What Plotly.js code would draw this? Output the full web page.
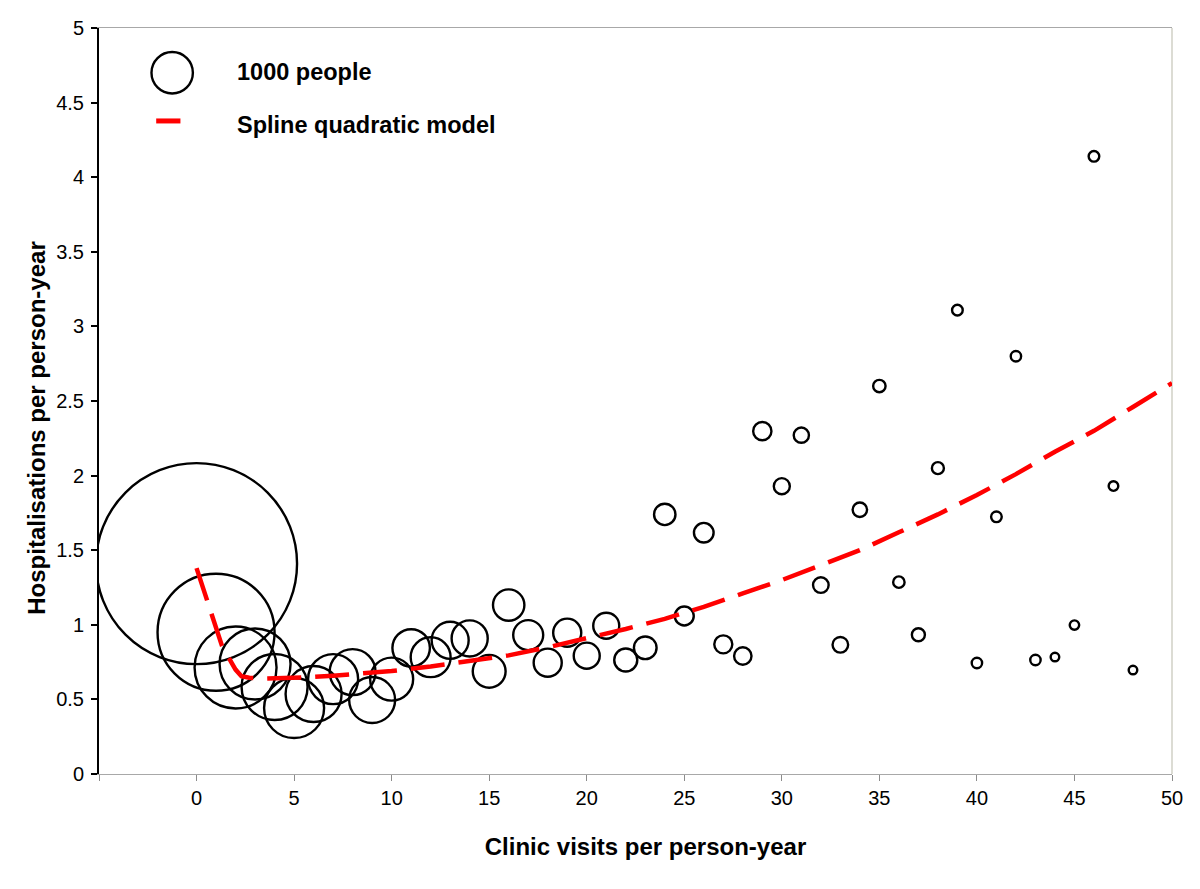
<!DOCTYPE html>
<html>
<head>
<meta charset="utf-8">
<script src="https://cdn.plot.ly/plotly-3.0.1.min.js"></script>
<style>html,body{margin:0;padding:0;background:#fff;}#chart{width:1200px;height:889px;}</style>
</head>
<body>
<div id="chart"></div>
<script>
// Clinic visits per person-year (x) for each group
const visits = [0,1,2,3,4,5,6,7,8,9,10,11,12,13,14,15,16,17,18,19,20,21,22,23,24,25,26,27,28,29,30,31,32,33,34,35,36,37,38,39,40,41,42,43,44,45,46,47,48];
// Hospitalisations per person-year for each group
const hospRate = [1.41,0.95,0.714,0.737,0.583,0.442,0.536,0.636,0.683,0.496,0.636,0.845,0.783,0.896,0.909,0.688,1.132,0.931,0.746,0.947,0.793,0.994,0.764,0.846,1.74,1.059,1.617,0.869,0.791,2.298,1.929,2.271,1.266,0.866,1.771,2.60,1.286,0.933,2.05,3.109,0.744,1.724,2.80,0.764,0.784,0.998,4.14,1.93,0.697];
// Number of people in each group (bubble area)
const people = [23570,7990,3920,2940,2540,2100,1830,1460,1230,1230,1080,820,930,800,760,630,575,525,460,460,395,395,310,300,267,210,225,190,177,195,150,135,142,142,121,90,76,99,84,66,63,66,63,63,43,52,66,54,43];
// Spline quadratic model curve
const modelX = [0,0.6,1.3,1.8,2.0,2.3,2.7,3.5,4.5,5.5,7,8.5,10,12,14,16,18,20,22,24,26,28,30,32,34,36,38,40,42,44,46,48,50];
const modelY = [1.38,1.14,0.86,0.745,0.70,0.655,0.645,0.640,0.641,0.647,0.659,0.672,0.69,0.72,0.76,0.795,0.849,0.909,0.972,1.04,1.12,1.21,1.30,1.40,1.50,1.62,1.74,1.87,2.01,2.16,2.30,2.46,2.62];
// Axis ticks
const xTickVals = [-5,0,5,10,15,20,25,30,35,40,45,50];
const xTickText = ['','0','5','10','15','20','25','30','35','40','45','50'];
const yTickVals = [0,0.5,1,1.5,2,2.5,3,3.5,4,4.5,5];
const yTickText = ['0','0.5','1','1.5','2','2.5','3','3.5','4','4.5','5'];
// Legend
const legendPeople = 1000;
const legendLabels = ['1000 people','Spline quadratic model'];

const SIZEREF = 500/(20.7*20.7);
const FONT = 'Arial, "Liberation Sans", sans-serif';
const legendRadius = Math.sqrt(legendPeople/2/SIZEREF);

const traces = [
  {
    type:'scatter', mode:'markers', x:visits, y:hospRate,
    marker:{size:people, sizemode:'area', sizeref:SIZEREF, color:'rgba(0,0,0,0)', opacity:1,
            line:{color:'#000', width:2.4}},
    showlegend:false, hoverinfo:'x+y'
  },
  {
    type:'scatter', mode:'lines', x:modelX, y:modelY,
    line:{color:'#ff0000', width:4.5, dash:'34px,14px'},
    showlegend:false
  }
];

const layout = {
  width:1200, height:889,
  margin:{l:98.5, r:28.3, t:27.7, b:115},
  paper_bgcolor:'#ffffff', plot_bgcolor:'#ffffff',
  font:{family:FONT, color:'#000'},
  showlegend:false,
  xaxis:{
    range:[-5,50], tickmode:'array', tickvals:xTickVals, ticktext:xTickText,
    showgrid:false, zeroline:false,
    showline:true, linecolor:'#a8a8a8', linewidth:1, mirror:true,
    ticks:'outside', ticklen:6, tickcolor:'#8c8c8c', tickwidth:1,
    tickfont:{size:20, family:FONT, color:'#000'},
    automargin:false,
    title:{text:'Clinic visits per person-year', font:{size:24, family:FONT, color:'#000', weight:'bold'}, standoff:30}
  },
  yaxis:{
    range:[0,5], tickmode:'array', tickvals:yTickVals, ticktext:yTickText,
    showgrid:false, zeroline:false,
    showline:true, linecolor:'#000', linewidth:2,
    ticks:'outside', ticklen:6, tickcolor:'#000', tickwidth:2,
    tickfont:{size:20, family:FONT, color:'#000'},
    ticklabelstandoff:3,
    automargin:false,
    title:{text:'Hospitalisations per person-year', font:{size:24, family:FONT, color:'#000', weight:'bold'}, standoff:4}
  },
  shapes:[
    {type:'line', xref:'paper', yref:'paper', x0:1, x1:1, y0:0, y1:1, line:{color:'#dcdcd4', width:2}, layer:'below'},
    {type:'circle', xref:'paper', yref:'paper', xsizemode:'pixel', ysizemode:'pixel',
     xanchor:0.0682, yanchor:0.940, x0:-legendRadius, x1:legendRadius, y0:-legendRadius, y1:legendRadius,
     line:{color:'#000', width:2.4}, fillcolor:'rgba(0,0,0,0)'},
    {type:'line', xref:'paper', yref:'paper', x0:0.0533, x1:0.0759, y0:0.8754, y1:0.8754,
     line:{color:'#ff0000', width:5}}
  ],
  annotations:[
    {xref:'paper', yref:'paper', x:0.1263, y:0.9406, xanchor:'left', yanchor:'middle', showarrow:false,
     text:legendLabels[0], font:{size:23.5, family:FONT, color:'#000', weight:'bold'}},
    {xref:'paper', yref:'paper', x:0.1263, y:0.8696, xanchor:'left', yanchor:'middle', showarrow:false,
     text:legendLabels[1], font:{size:23.5, family:FONT, color:'#000', weight:'bold'}}
  ]
};

Plotly.newPlot('chart', traces, layout, {displayModeBar:false, staticPlot:true}).then(function(gd){
  // nudge axis titles to the reference's off-centre placement
  const yt = gd.querySelector('.g-ytitle text');
  if (yt) yt.setAttribute('transform', 'translate(0,27) ' + (yt.getAttribute('transform') || ''));
  const xt = gd.querySelector('.g-xtitle text');
  if (xt) xt.setAttribute('transform', 'translate(10,0) ' + (xt.getAttribute('transform') || ''));
});
</script>
</body>
</html>
